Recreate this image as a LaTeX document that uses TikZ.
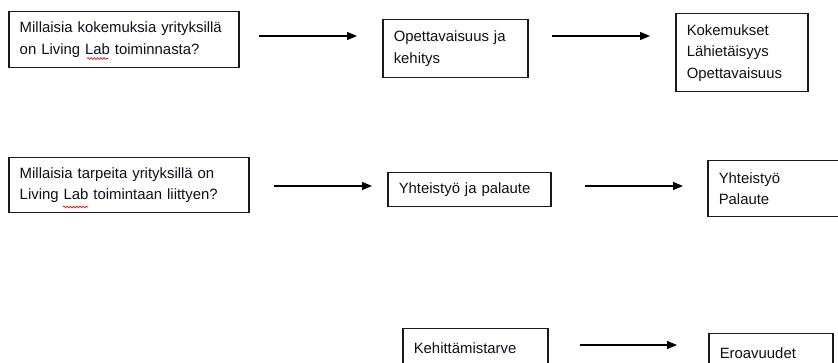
\documentclass[tikz,border=0pt]{standalone}
\usepackage{fontspec}
\setmainfont{Liberation Sans}
\usetikzlibrary{arrows.meta,decorations.pathmorphing}
\definecolor{boxc}{HTML}{1A1A1A}
\definecolor{txt}{HTML}{10101A}
\tikzset{
  box/.style={draw=boxc, line width=1.5pt, rectangle, anchor=north west,
    inner xsep=11pt, inner ysep=0pt, align=left,
    font=\fontsize{14.9}{21.5}\selectfont, text=txt},
  arr/.style={draw=black, line width=1.2pt, -{Triangle[length=10pt,width=8pt]}},
  squiggle/.style={draw=red!85!black, line width=0.6pt, decorate,
    decoration={snake, amplitude=0.9pt, segment length=3.2pt}},
}
\begin{document}
\begin{tikzpicture}[x=1pt,y=-1pt]
\useasboundingbox (0,0) rectangle (838,363);
\clip (0,0) rectangle (838,363);
\fill[white] (0,0) rectangle (838,363);

% row 1
\node[box, text width=208pt, minimum height=56pt] (b1) at (8,11)
  {Millaisia kokemuksia yrityksillä\\on Living Lab toiminnasta?};
\node[box, text width=123pt, minimum height=58pt] (b2) at (382,19)
  {Opettavaisuus ja\\kehitys};
\node[box, text width=110pt, minimum height=78pt] (b3) at (675,13)
  {Kokemukset\\Lähietäisyys\\Opettavaisuus};

% row 2
\node[box, text width=218pt, minimum height=55pt] (b4) at (8,157)
  {Millaisia tarpeita yrityksillä on\\Living Lab toimintaan liittyen?};
\node[box, text width=141pt, minimum height=34pt] (b5) at (387,172)
  {Yhteistyö ja palaute};
\node[box, text width=130pt, minimum height=56pt] (b6) at (707,160)
  {Yhteistyö\\Palaute};

% row 3
\node[box, text width=123pt, minimum height=38pt] (b7) at (402,328)
  {Kehittämistarve};
\node[box, text width=102pt, minimum height=38pt] (b8) at (708,333)
  {Eroavuudet};

% arrows
\coordinate (a1s) at (259,36);  \coordinate (a1e) at (357,36);
\coordinate (a2s) at (552,36);  \coordinate (a2e) at (650,36);
\coordinate (a3s) at (274,186); \coordinate (a3e) at (372,186);
\coordinate (a4s) at (585,186); \coordinate (a4e) at (683,186);
\coordinate (a5s) at (580,345); \coordinate (a5e) at (677,345);
\draw[arr] (a1s) -- (a1e);
\draw[arr] (a2s) -- (a2e);
\draw[arr] (a3s) -- (a3e);
\draw[arr] (a4s) -- (a4e);
\draw[arr] (a5s) -- (a5e);

% spell-check underlines
\draw[squiggle] (87,58.5) -- (108,58.5);
\draw[squiggle] (63,207) -- (88,207);
\end{tikzpicture}
\end{document}
